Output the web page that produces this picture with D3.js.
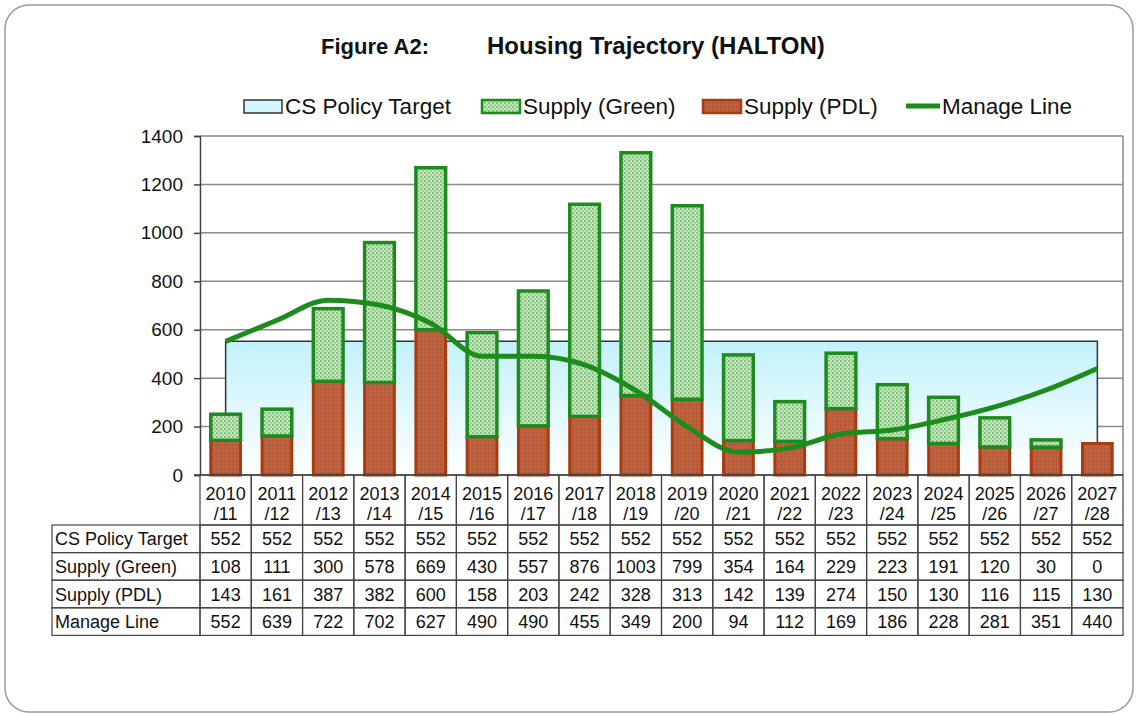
<!DOCTYPE html>
<html>
<head>
<meta charset="utf-8">
<script src="https://cdn.jsdelivr.net/npm/d3@7"></script>
<style>
  body { margin: 0; background: #fff; }
  svg text { font-family: Arial, "Liberation Sans", sans-serif; fill: #111; }
</style>
</head>
<body>
<div id="chart"></div>
<script>
const categories = ["2010/11", "2011/12", "2012/13", "2013/14", "2014/15", "2015/16", "2016/17", "2017/18", "2018/19",
  "2019/20", "2020/21", "2021/22", "2022/23", "2023/24", "2024/25", "2025/26", "2026/27", "2027/28"];
const policyTarget = [552, 552, 552, 552, 552, 552, 552, 552, 552, 552, 552, 552, 552, 552, 552, 552, 552, 552];
const supplyGreen = [108, 111, 300, 578, 669, 430, 557, 876, 1003, 799, 354, 164, 229, 223, 191, 120, 30, 0];
const supplyPDL = [143, 161, 387, 382, 600, 158, 203, 242, 328, 313, 142, 139, 274, 150, 130, 116, 115, 130];
const manageLine = [552, 639, 722, 702, 627, 490, 490, 455, 349, 200, 94, 112, 169, 186, 228, 281, 351, 440];
const yTicks = [0, 200, 400, 600, 800, 1000, 1200, 1400];
const seriesNames = ["CS Policy Target", "Supply (Green)", "Supply (PDL)", "Manage Line"];

const W = 1138, H = 714;
const plot = { left: 200, right: 1123, top: 136, bottom: 475 };

const svg = d3.select("#chart").append("svg")
  .attr("width", W)
  .attr("height", H);

const defs = svg.append("defs");

// gradient for the policy target area
const grad = defs.append("linearGradient")
  .attr("id", "areaGrad")
  .attr("x1", 0).attr("y1", 0).attr("x2", 0).attr("y2", 1);
grad.append("stop").attr("offset", "0%").attr("stop-color", "#c2f1fb");
grad.append("stop").attr("offset", "100%").attr("stop-color", "#ffffff");

// dotted pattern for green supply
const pg = defs.append("pattern")
  .attr("id", "greenPat")
  .attr("width", 4).attr("height", 4)
  .attr("patternUnits", "userSpaceOnUse");
pg.append("rect").attr("width", 4).attr("height", 4).attr("fill", "#c4e6bd");
pg.append("rect").attr("x", 0).attr("y", 0).attr("width", 2).attr("height", 2).attr("fill", "#82c47c");
pg.append("rect").attr("x", 2).attr("y", 2).attr("width", 2).attr("height", 2).attr("fill", "#9dd197");

// subtle pattern for PDL supply
const pp = defs.append("pattern")
  .attr("id", "pdlPat")
  .attr("width", 4).attr("height", 4)
  .attr("patternUnits", "userSpaceOnUse");
pp.append("rect").attr("width", 4).attr("height", 4).attr("fill", "#bd6240");
pp.append("rect").attr("x", 0).attr("y", 0).attr("width", 2).attr("height", 2).attr("fill", "#b55733");

// outer frame
svg.append("rect")
  .attr("x", 5).attr("y", 5)
  .attr("width", W - 10).attr("height", H - 7)
  .attr("rx", 24)
  .attr("fill", "none")
  .attr("stroke", "#9a9a9a")
  .attr("stroke-width", 1.5);

// title
svg.append("text")
  .attr("x", 321).attr("y", 54)
  .style("font-size", "22px").style("font-weight", "bold")
  .text("Figure A2:");
svg.append("text")
  .attr("x", 487).attr("y", 54)
  .style("font-size", "24px").style("font-weight", "bold")
  .text("Housing Trajectory (HALTON)");

// scales
const x = d3.scaleBand()
  .domain(categories)
  .range([plot.left, plot.right])
  .paddingInner(0.42)
  .paddingOuter(0.21);
const xc = d3.scaleBand().domain(categories).range([plot.left, plot.right]);
const y = d3.scaleLinear()
  .domain([0, 1400])
  .range([plot.bottom, plot.top]);

// gridlines
svg.append("g")
  .selectAll("line")
  .data(yTicks.filter(d => d > 0))
  .join("line")
  .attr("x1", plot.left).attr("x2", plot.right)
  .attr("y1", d => y(d)).attr("y2", d => y(d))
  .attr("stroke", "#8a8a8a")
  .attr("stroke-width", 1.5);

// right border of plot
svg.append("line")
  .attr("x1", plot.right).attr("x2", plot.right)
  .attr("y1", plot.top).attr("y2", plot.bottom)
  .attr("stroke", "#8a8a8a")
  .attr("stroke-width", 1.5);

// policy target area
const cx = d => xc(d) + xc.bandwidth() / 2;
const area = d3.area()
  .x((d, i) => cx(categories[i]))
  .y0(y(0))
  .y1(d => y(d));
svg.append("path")
  .datum(policyTarget)
  .attr("d", area)
  .attr("fill", "url(#areaGrad)");
const areaLine = d3.line()
  .x(d => d[0]).y(d => d[1]);
const aL = cx(categories[0]), aR = cx(categories[categories.length - 1]);
svg.append("path")
  .datum([[aL, y(0)], [aL, y(policyTarget[0])]]
    .concat(policyTarget.map((d, i) => [cx(categories[i]), y(d)]))
    .concat([[aR, y(0)]]))
  .attr("d", areaLine)
  .attr("fill", "none")
  .attr("stroke", "#333")
  .attr("stroke-width", 1.5);

// bars PDL
svg.append("g")
  .selectAll("rect")
  .data(supplyPDL)
  .join("rect")
  .attr("x", (d, i) => x(categories[i]))
  .attr("width", x.bandwidth())
  .attr("y", d => y(d))
  .attr("height", d => y(0) - y(d))
  .attr("fill", "url(#pdlPat)")
  .attr("stroke", "#a63c10")
  .attr("stroke-width", 3);

// bars Green stacked on PDL
svg.append("g")
  .selectAll("rect")
  .data(supplyGreen.map((d, i) => ({ cat: categories[i], v: d, base: supplyPDL[i] })).filter(d => d.v > 0))
  .join("rect")
  .attr("x", d => x(d.cat))
  .attr("width", x.bandwidth())
  .attr("y", d => y(d.v + d.base))
  .attr("height", d => y(d.base) - y(d.v + d.base))
  .attr("fill", "url(#greenPat)")
  .attr("stroke", "#1f8a1f")
  .attr("stroke-width", 3.5);

// manage line
const line = d3.line()
  .x((d, i) => cx(categories[i]))
  .y(d => y(d))
  .curve(d3.curveMonotoneX);
svg.append("path")
  .datum(manageLine)
  .attr("d", line)
  .attr("fill", "none")
  .attr("stroke", "#1c8c1c")
  .attr("stroke-width", 5)
  .attr("stroke-linejoin", "round");

// y axis
const yAxis = svg.append("g")
  .attr("transform", `translate(${plot.left},0)`)
  .call(d3.axisLeft(y).tickValues(yTicks).tickFormat(d3.format("d")).tickSize(6).tickPadding(11));
yAxis.select(".domain").attr("stroke", "#444").attr("stroke-width", 1.5);
yAxis.selectAll(".tick line").attr("stroke", "#444").attr("stroke-width", 1.5);
yAxis.selectAll(".tick text")
  .style("font-size", "19px")
  .style("font-family", "Arial, 'Liberation Sans', sans-serif")
  .attr("fill", "#111");

// x axis baseline
svg.append("line")
  .attr("x1", plot.left - 6).attr("x2", plot.right)
  .attr("y1", y(0)).attr("y2", y(0))
  .attr("stroke", "#444").attr("stroke-width", 1.5);

// data table
const tbl = { left: 52, top: 525, rowH: 27.6, headTop: plot.bottom };
const rows = [policyTarget, supplyGreen, supplyPDL, manageLine];
const tg = svg.append("g");

// header cells (years)
tg.selectAll(".hcell")
  .data(categories)
  .join("rect")
  .attr("class", "hcell")
  .attr("x", d => xc(d)).attr("y", tbl.headTop)
  .attr("width", xc.bandwidth()).attr("height", tbl.top - tbl.headTop)
  .attr("fill", "none").attr("stroke", "#444").attr("stroke-width", 1.2);
tg.selectAll(".hy1")
  .data(categories)
  .join("text")
  .attr("x", d => cx(d)).attr("y", 500)
  .attr("text-anchor", "middle")
  .style("font-size", "18px")
  .text(d => d.split("/")[0]);
tg.selectAll(".hy2")
  .data(categories)
  .join("text")
  .attr("x", d => cx(d)).attr("y", 520)
  .attr("text-anchor", "middle")
  .style("font-size", "18px")
  .text(d => "/" + d.split("/")[1]);

rows.forEach((vals, r) => {
  const ry = tbl.top + r * tbl.rowH;
  tg.append("rect")
    .attr("x", tbl.left).attr("y", ry)
    .attr("width", plot.left - tbl.left).attr("height", tbl.rowH)
    .attr("fill", "none").attr("stroke", "#444").attr("stroke-width", 1.2);
  tg.append("text")
    .attr("x", tbl.left + 3).attr("y", ry + tbl.rowH / 2 + 6.5)
    .style("font-size", "18px")
    .text(seriesNames[r]);
  tg.selectAll(".c" + r)
    .data(vals)
    .join("rect")
    .attr("x", (d, i) => xc(categories[i])).attr("y", ry)
    .attr("width", xc.bandwidth()).attr("height", tbl.rowH)
    .attr("fill", "none").attr("stroke", "#444").attr("stroke-width", 1.2);
  tg.selectAll(".t" + r)
    .data(vals)
    .join("text")
    .attr("x", (d, i) => cx(categories[i])).attr("y", ry + tbl.rowH / 2 + 6.5)
    .attr("text-anchor", "middle")
    .style("font-size", "18px")
    .text(d => d);
});

// legend
const lg = svg.append("g").attr("transform", "translate(0,106)");
const legendItems = [
  { name: seriesNames[0], x: 244, type: "area" },
  { name: seriesNames[1], x: 482, type: "green" },
  { name: seriesNames[2], x: 703, type: "pdl" },
  { name: seriesNames[3], x: 906, type: "line" }
];
legendItems.forEach(it => {
  if (it.type === "line") {
    lg.append("line")
      .attr("x1", it.x).attr("x2", it.x + 34)
      .attr("y1", 0).attr("y2", 0)
      .attr("stroke", "#1c8c1c").attr("stroke-width", 5);
  } else {
    lg.append("rect")
      .attr("x", it.x).attr("y", -6)
      .attr("width", 38).attr("height", 13)
      .attr("fill", it.type === "area" ? "#d4f5fb" : it.type === "green" ? "url(#greenPat)" : "url(#pdlPat)")
      .attr("stroke", it.type === "area" ? "#333" : it.type === "green" ? "#1f8a1f" : "#a63c10")
      .attr("stroke-width", it.type === "area" ? 1.5 : 2.5);
  }
  lg.append("text")
    .attr("x", it.x + (it.type === "line" ? 36 : 41)).attr("y", 8)
    .style("font-size", "22.5px")
    .text(it.name);
});
</script>
</body>
</html>
